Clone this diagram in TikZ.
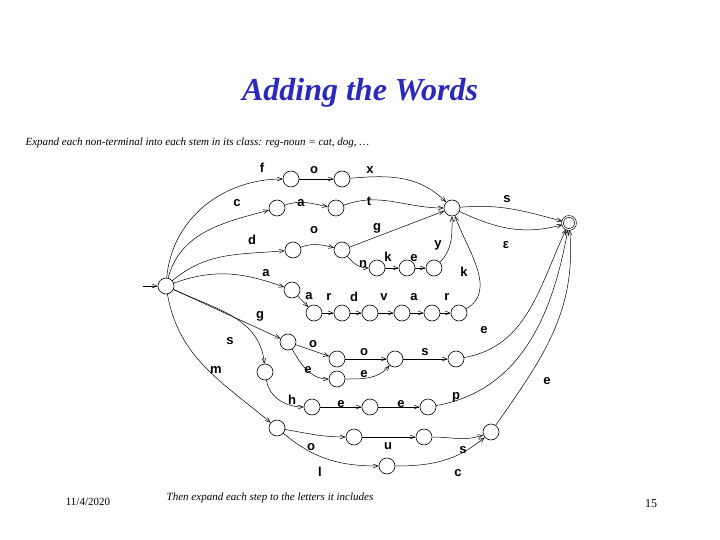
\documentclass[tikz,border=0pt]{standalone}
\usepackage{fontspec}
\setmainfont{Liberation Serif}
\newfontfamily\lab{Liberation Sans}
\usetikzlibrary{arrows.meta}
\definecolor{ttl}{RGB}{40,40,200}
\begin{document}
\begin{tikzpicture}[x=1pt,y=-1pt,
 st/.style={circle,draw,inner sep=0pt,minimum size=16pt,line width=0.6pt},
 fin/.style={st,double,double distance=1.2pt,minimum size=13pt},
 e/.style={-{Straight Barb[length=5pt,width=4pt]},line width=0.5pt},
 lb/.style={font=\lab\bfseries\fontsize{13}{13}\selectfont}]
\useasboundingbox (0,0) rectangle (720,540);
\node[font=\itshape\bfseries\fontsize{32}{32}\selectfont,text=ttl] (title) at (360,93) {Adding the Words};
\node[font=\itshape\fontsize{11}{11}\selectfont,anchor=west] (sub) at (22,143) {Expand each non-terminal into each stem in its class: reg-noun = cat, dog, \dots};
\node[font=\fontsize{11}{11}\selectfont] (date) at (88,502) {11/4/2020};
\node[font=\itshape\fontsize{11}{11}\selectfont] (foot) at (270,498) {Then expand each step to the letters it includes};
\node[font=\fontsize{12}{12}\selectfont] (pg) at (651,504) {15};
% nodes
\node[st] (S) at (166,286) {};
\coordinate (in) at (143,286);
\node[st] (F1) at (291,179) {}; \node[st] (F2) at (342,179) {};
\node[st] (C1) at (277,208) {}; \node[st] (C2) at (336,208) {};
\node[st] (H) at (452,208) {};
\node[fin] (F) at (569,223) {};
\node[st] (D1) at (293,250) {}; \node[st] (D2) at (342,250) {};
\node[st] (N1) at (377,268) {}; \node[st] (N2) at (407,268) {}; \node[st] (N3) at (434,268) {};
\node[st] (A1) at (292,290) {};
\node[st] (A2) at (314,313) {}; \node[st] (A3) at (342,313) {}; \node[st] (A4) at (370,313) {};
\node[st] (A5) at (402,313) {}; \node[st] (A6) at (432,313) {}; \node[st] (A7) at (459,313) {};
\node[st] (G1) at (288,342) {}; \node[st] (G2) at (337,359) {}; \node[st] (G3) at (395,359) {};
\node[st] (G4) at (456,359) {}; \node[st] (G5) at (337,379) {};
\node[st] (S1) at (265,372) {};
\node[st] (H1) at (312,407) {}; \node[st] (H2) at (370,407) {}; \node[st] (H3) at (428,407) {};
\node[st] (M1) at (277,428) {}; \node[st] (M2) at (354,437) {}; \node[st] (M3) at (424,437) {};
\node[st] (M4) at (491,432) {}; \node[st] (L) at (387,466) {};
% edges
\draw[e] (in) -- (S);
\draw[e] (S) to[out=85,in=180] (F1);
\draw[e] (F1) -- (F2);
\draw[e] (F2) to[out=5,in=135] (H);
\draw[e] (S) to[out=75,in=195] (C1);
\draw[e] (C1) to[out=20,in=170] (C2);
\draw[e] (C2) to[out=20,in=180] (H);
\draw[e] (S) to[out=40,in=185] (D1);
\draw[e] (D1) to[out=20,in=165] (D2);
\draw[e] (D2) -- (H);
\draw[e] (D2) to[out=-50,in=180] (N1);
\draw[e] (N1) -- (N2); \draw[e] (N2) -- (N3);
\draw[e] (N3) to[out=45,in=-90] (H);
\draw[e] (S) to[out=20,in=160] (A1);
\draw[e] (A1) -- (A2);
\draw[e] (A2) -- (A3); \draw[e] (A3) -- (A4); \draw[e] (A4) -- (A5);
\draw[e] (A5) -- (A6); \draw[e] (A6) -- (A7);
\draw[e] (A7) to[out=30,in=-70] (H);
\draw[e] (H) to[out=5,in=165] (F);
\draw[e] (H) to[out=-25,in=195] (F);
\draw[e] (S) -- (G1);
\draw[e] (G1) -- (G2);
\draw[e] (G1) to[out=-60,in=180] (G5);
\draw[e] (G2) -- (G3);
\draw[e] (G5) to[out=0,in=-130] (G3);
\draw[e] (G3) -- (G4);
\draw[e] (G4) to[out=10,in=-115] (F);
\draw[e] (S) to[out=-25,in=95] (S1);
\draw[e] (S1) to[out=-80,in=180] (H1);
\draw[e] (H1) -- (H2); \draw[e] (H2) -- (H3);
\draw[e] (H3) to[out=10,in=-100] (F);
\draw[e] (S) to[out=-80,in=140] (M1);
\draw[e] (M1) to[out=-10,in=180] (M2);
\draw[e] (M2) -- (M3);
\draw[e] (M3) to[out=0,in=200] (M4);
\draw[e] (M1) to[out=-40,in=180] (L);
\draw[e] (L) to[out=0,in=220] (M4);
\draw[e] (M4) to[out=55,in=-85] (F);
% labels
\foreach \t/\x/\y in {f/262/168,o/314/170,x/370/170,c/237/203,a/301/203,t/369/201,d/252/240,o/314/230,g/377/228,n/363/264,k/388/257,e/414/258,y/438/245,a/266/273,a/309/296,r/329/297,d/354/297,v/384/297,a/414/297,r/447/297,k/464/272,s/507/199,g/260/316,s/230/341,m/216/370,o/313/344,e/308/370,o/364/352,e/364/374,s/425/352,e/484/330,h/292/400,e/341/404,e/401/404,p/456/397,e/547/381,o/311/447,u/388/446,s/463/450,l/320/472,c/458/473}
  {\node[lb] at (\x,\y) {\t};}
\node[lb] (eps) at (506,245) {ε};
\end{tikzpicture}
\end{document}
